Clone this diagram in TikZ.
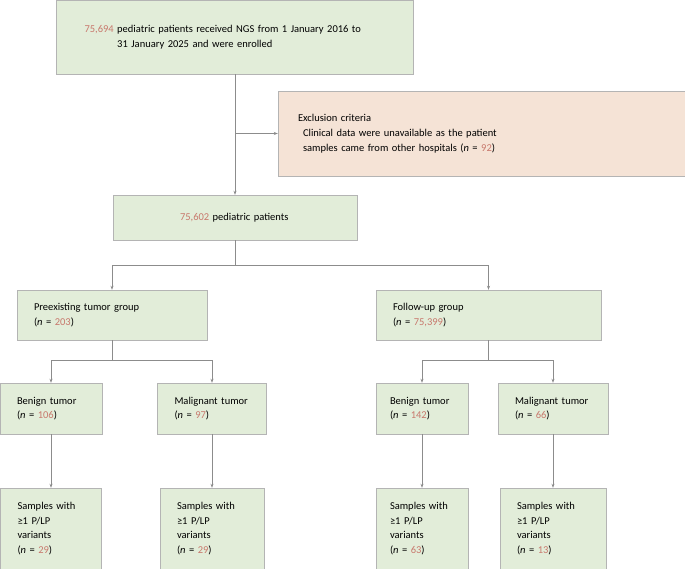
\documentclass[tikz,border=0pt]{standalone}
\usepackage{fontspec}
\setmainfont{Carlito}
\usetikzlibrary{arrows.meta,positioning}
\definecolor{boxgreen}{HTML}{E2EDD9}
\definecolor{boxorange}{HTML}{F5E3D6}
\definecolor{boxline}{HTML}{B4B4B4}
\definecolor{numred}{HTML}{C8786C}
\definecolor{linegray}{HTML}{8C8C8C}
\newcommand{\num}[1]{\textcolor{numred}{#1}}
\begin{document}
\begin{tikzpicture}[
  x=1pt, y=-1pt,
  font=\fontsize{10.5}{14.5}\selectfont,
  box/.style={draw=boxline, fill=boxgreen, rectangle, align=left, inner xsep=17pt, inner ysep=0pt},
  excl/.style={box, fill=boxorange},
  conn/.style={draw=linegray, line width=0.6pt},
  arr/.style={conn, -{Stealth[length=4pt,width=3pt]}}
]
\useasboundingbox (0,0) rectangle (685,569);

% Enrollment and exclusion
\node[box, text width=301pt, minimum height=74pt, inner xsep=28pt] (enrolled) at (235,37)
  {\num{75,694} \begin{tabular}[t]{@{}l@{}}pediatric patients received NGS from 1 January 2016 to\\31 January 2025 and were enrolled\end{tabular}};
\node[excl, text width=370pt, minimum height=85pt, inner xsep=20pt] (exclusion) at (483,133.5)
  {Exclusion criteria\\[1pt]\hspace*{5pt}Clinical data were unavailable as the patient\\\hspace*{5pt}samples came from other hospitals (\textit{n} = \num{92})};
\node[box, text width=210pt, minimum height=45pt, inner xsep=17pt] (total) at (235,217.5)
  {\hspace*{50pt}\num{75,602} pediatric patients};

% Groups
\node[box, text width=156pt, minimum height=50pt] (pre) at (112,315)
  {Preexisting tumor group\\(\textit{n} = \num{203})};
\node[box, text width=191pt, minimum height=50pt] (follow) at (488.5,315)
  {Follow-up group\\(\textit{n} = \num{75,399})};

% Tumor types
\node[box, text width=68pt, minimum height=51pt] (benA) at (51,408.5)
  {Benign tumor\\(\textit{n} = \num{106})};
\node[box, text width=75pt, minimum height=51pt] (malA) at (212,408.5)
  {Malignant tumor\\(\textit{n} = \num{97})};
\node[box, text width=64pt, minimum height=51pt, inner xsep=14pt] (benB) at (422,408.5)
  {Benign tumor\\(\textit{n} = \num{142})};
\node[box, text width=76pt, minimum height=51pt] (malB) at (553,408.5)
  {Malignant tumor\\(\textit{n} = \num{66})};

% Variant carriers
\node[box, text width=67pt, minimum height=81pt] (varA) at (51,528.5)
  {Samples with\\≥1 P/LP\\variants\\(\textit{n} = \num{29})};
\node[box, text width=70pt, minimum height=81pt] (varB) at (212,528.5)
  {Samples with\\≥1 P/LP\\variants\\(\textit{n} = \num{29})};
\node[box, text width=64pt, minimum height=81pt, inner xsep=14pt] (varC) at (422,528.5)
  {Samples with\\≥1 P/LP\\variants\\(\textit{n} = \num{63})};
\node[box, text width=72pt, minimum height=81pt] (varD) at (553,528.5)
  {Samples with\\≥1 P/LP\\variants\\(\textit{n} = \num{13})};

% Connectors
\draw[arr] (enrolled.south) -- (total.north);
\coordinate (exclsplit) at (enrolled.south |- exclusion.west);
\draw[arr] (exclsplit) -- (exclusion.west);
\coordinate (groupsplit) at ([yshift=-25pt]total.south);
\draw[conn] (total.south) -- (groupsplit);
\draw[arr] (groupsplit) -| (pre.north);
\draw[arr] (groupsplit) -| (follow.north);
\coordinate (presplit) at ([yshift=-20pt]pre.south);
\draw[conn] (pre.south) -- (presplit);
\draw[arr] (presplit) -| (benA.north);
\draw[arr] (presplit) -| (malA.north);
\coordinate (followsplit) at ([yshift=-20pt]follow.south);
\draw[conn] (follow.south) -- (followsplit);
\draw[arr] (followsplit) -| (benB.north);
\draw[arr] (followsplit) -| (malB.north);
\draw[arr] (benA) -- (varA);
\draw[arr] (malA) -- (varB);
\draw[arr] (benB) -- (varC);
\draw[arr] (malB) -- (varD);
\end{tikzpicture}
\end{document}
